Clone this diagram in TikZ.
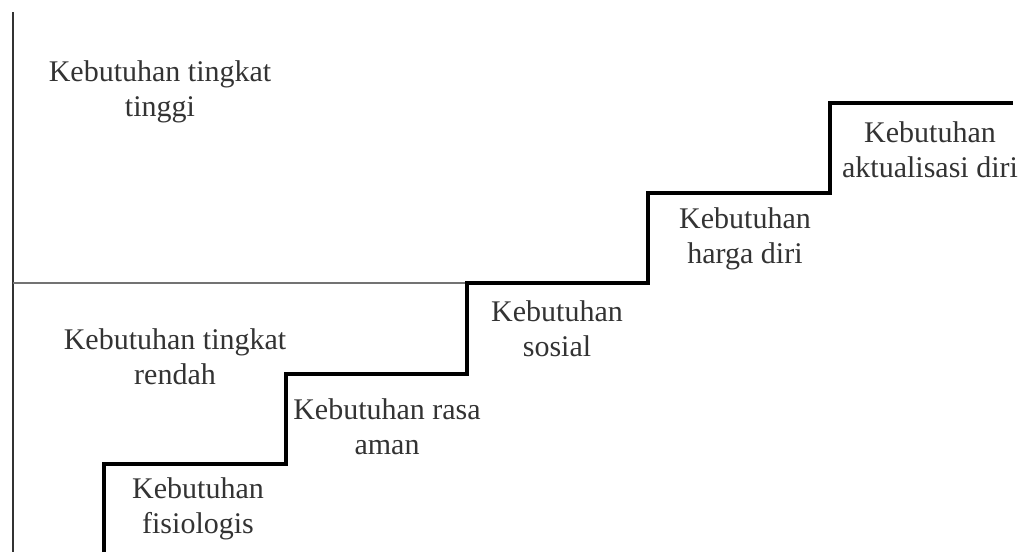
\documentclass[tikz,border=0pt]{standalone}
\usepackage{fontspec}
\setmainfont{Liberation Serif}
\begin{document}
\begin{tikzpicture}[x=1pt,y=-1pt,
  lbl/.style={align=center,inner sep=0pt,text=black!80,font=\fontsize{30}{35}\selectfont},
  stair/.style={line width=4.5pt,black,line join=miter},
  axis/.style={line width=1.6pt,black!80},
  divider/.style={line width=1.6pt,black!55}]
\useasboundingbox (0,0) rectangle (1028,552);
% axis and divider
\coordinate (axtop) at (13,12);
\coordinate (axbot) at (13,552);
\coordinate (divL) at (13,283);
\draw[axis] (axtop) -- (axbot);
% staircase corners
\coordinate (s0) at (104,552);
\coordinate (s1) at (104,464);
\coordinate (s2) at (286,464);
\coordinate (s3) at (286,374);
\coordinate (s4) at (467,374);
\coordinate (s5) at (467,283);
\coordinate (s6) at (648,283);
\coordinate (s7) at (648,193);
\coordinate (s8) at (830,193);
\coordinate (s9) at (830,103);
\coordinate (s10) at (1013,103);
\draw[divider] (divL) -- (s5);
\draw[stair] (s0) -- (s1) -- (s2) -- (s3) -- (s4) -- (s5) -- (s6) -- (s7) -- (s8) -- (s9) -- (s10);
% labels
\node[lbl] (high) at (160,92) {Kebutuhan tingkat\\tinggi};
\node[lbl] (low) at (175,357) {Kebutuhan tingkat\\rendah};
\node[lbl] (fis) at (198,509) {Kebutuhan\\fisiologis};
\node[lbl] (aman) at (387,427) {Kebutuhan rasa\\aman};
\node[lbl] (sos) at (557,329) {Kebutuhan\\sosial};
\node[lbl] (harga) at (745,239) {Kebutuhan\\harga diri};
\node[lbl] (akt) at (930,150) {Kebutuhan\\aktualisasi diri};
\end{tikzpicture}
\end{document}
